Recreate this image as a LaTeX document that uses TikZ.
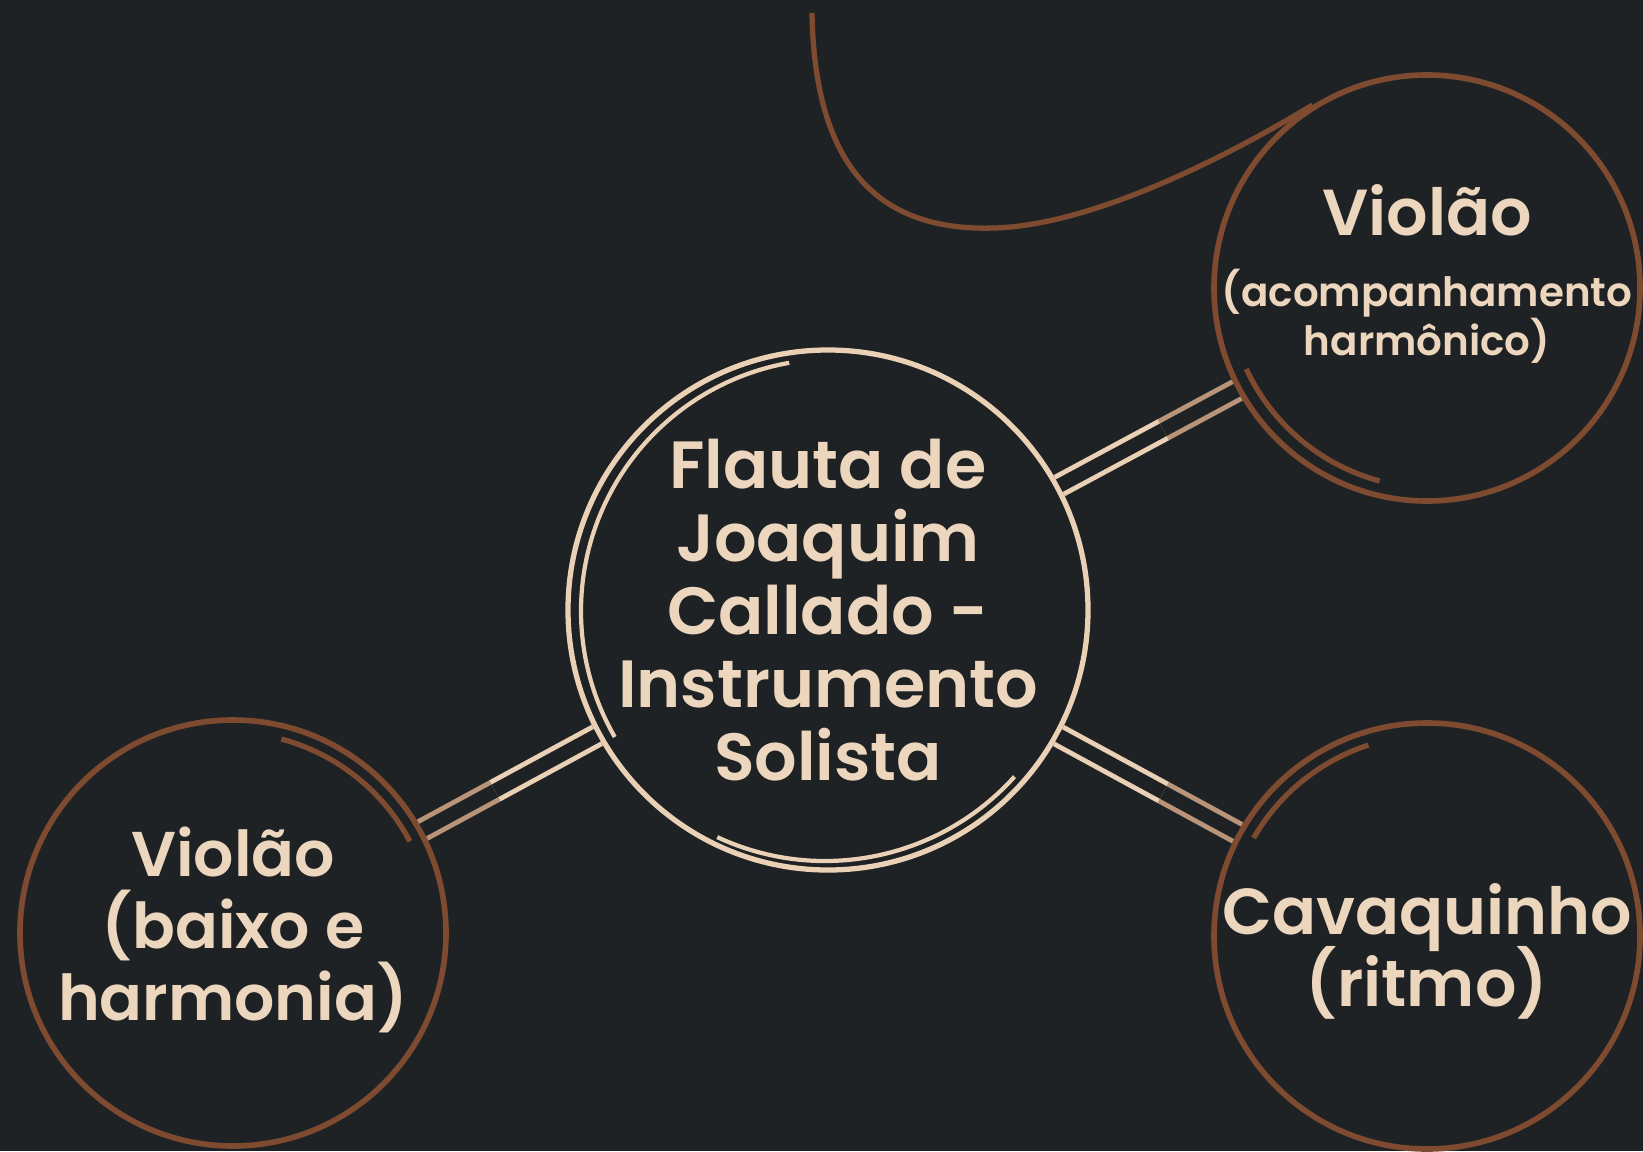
\documentclass[tikz,border=0pt]{standalone}
\usepackage{fontspec}
\setmainfont{Poppins}[BoldFont={* SemiBold}]
\usetikzlibrary{calc}
\definecolor{bgdark}{HTML}{1E2224}
\definecolor{sand}{HTML}{EAD0B5}
\definecolor{rust}{HTML}{7E4B30}
\definecolor{txtsand}{HTML}{EDD6BE}
\begin{document}
\begin{tikzpicture}[
  ring/.style={circle, draw=sand, line width=1.5pt, minimum size=5.2cm, inner sep=0pt},
  bubble/.style={circle, draw=rust, line width=1.6pt, minimum size=4.26cm, inner sep=0pt},
  txt/.style={text=txtsand, align=center, font=\bfseries\fontsize{19}{20.8}\selectfont,
    execute at begin node={\lineskiplimit=-20pt}},
  link/.style={draw=sand, double=bgdark, double distance=4pt, line width=1.4pt},
  linkend/.style={draw=sand!55!rust, double=bgdark, double distance=4pt, line width=1.4pt},
  rustline/.style={draw=rust, line width=1.5pt},
  sandline/.style={draw=sand, line width=1.2pt}]
  \fill[bgdark] (0,0) rectangle (16.43,11.51);
  \useasboundingbox (0,0) rectangle (16.43,11.51);

  % circles
  \node[ring, label={[txt]center:Flauta de\\Joaquim\\Callado -\\Instrumento\\Solista}] (flauta) at (8.28,5.41) {};
  \node[bubble, label={[txt, font=\bfseries\fontsize{18.5}{21}\selectfont, yshift=0.14cm]center:Violão\\[-1pt]{\fontsize{11.5}{14}\selectfont(acompanhamento}\\[-7pt]{\fontsize{11.5}{14}\selectfont harmônico)}}] (violaoA) at (14.27,8.63) {};
  \node[bubble, label={[txt, font=\bfseries\fontsize{18}{20.5}\selectfont, yshift=0.03cm]center:Violão\\(baixo e\\harmonia)}] (violaoB) at (2.33,2.18) {};
  \node[bubble, label={[txt, font=\bfseries\fontsize{18.5}{20.5}\selectfont, yshift=-0.15cm]center:Cavaquinho\\(ritmo)}] (cavaquinho) at (14.27,2.15) {};

  % connectors
  \coordinate (ma) at ($(flauta)!0.56!(violaoA)$);
  \coordinate (mb) at ($(flauta)!0.56!(violaoB)$);
  \coordinate (mc) at ($(flauta)!0.56!(cavaquinho)$);
  \draw[link] (flauta) -- (ma);
  \draw[linkend] (ma) -- (violaoA);
  \draw[link] (flauta) -- (mb);
  \draw[linkend] (mb) -- (violaoB);
  \draw[link] (flauta) -- (mc);
  \draw[linkend] (mc) -- (cavaquinho);

  % loop at the top
  \coordinate (loopstart) at (8.12,11.38);
  \draw[rustline] (loopstart) .. controls (8.15,9.6) and (9.0,9.2) .. (9.95,9.23)
    .. controls (10.9,9.26) and (12.2,9.9) .. (violaoA.122);

  % second strokes
  \draw[sandline] ($(flauta)+(0.05,-0.01)$) ++(100:2.52) arc[start angle=100, end angle=210, radius=2.52];
  \draw[sandline] ($(flauta)+(-0.03,0.04)$) ++(245:2.55) arc[start angle=245, end angle=318, radius=2.55];
  \draw[rustline] ($(violaoA)+(0.06,0.06)$) ++(205:2.06) arc[start angle=205, end angle=255, radius=2.06];
  \draw[rustline] ($(violaoB)+(-0.05,-0.05)$) ++(28:2.06) arc[start angle=28, end angle=75, radius=2.06];
  \draw[rustline] ($(cavaquinho)+(0.05,-0.05)$) ++(108:2.06) arc[start angle=108, end angle=150, radius=2.06];
\end{tikzpicture}
\end{document}
